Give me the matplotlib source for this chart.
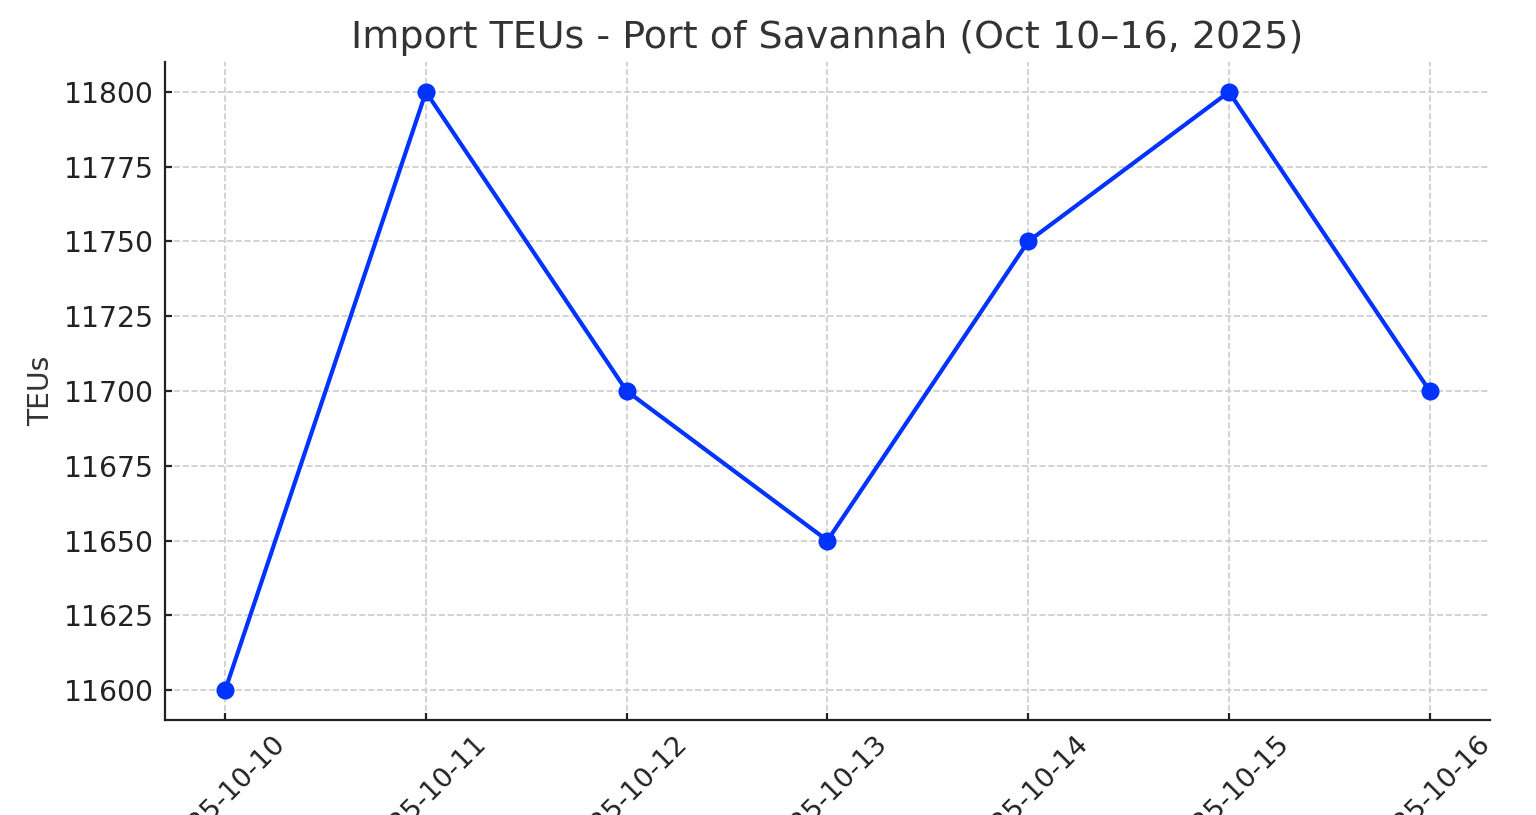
import matplotlib
matplotlib.use("Agg")
import matplotlib.pyplot as plt

dates = ["2025-10-10", "2025-10-11", "2025-10-12", "2025-10-13",
         "2025-10-14", "2025-10-15", "2025-10-16"]
teus = [11600, 11800, 11700, 11650, 11750, 11800, 11700]

plt.rcParams['text.color'] = '#333333'
plt.rcParams['axes.labelcolor'] = '#333333'
plt.rcParams['xtick.color'] = '#222222'
plt.rcParams['ytick.color'] = '#222222'

fig = plt.figure(figsize=(7.68, 4.075), dpi=200)
ax = fig.add_axes([0.1074, 0.1166, 0.8626, 0.8073])

ax.plot(dates, teus, marker='o', color='#0033ff', linewidth=1.5, markersize=5.5)

ax.set_title('Import TEUs - Port of Savannah (Oct 10–16, 2025)', fontsize=13.7, pad=5)
ax.set_ylabel('TEUs', fontsize=10.2, labelpad=3)
ax.tick_params(direction='in', length=2.5, pad=4)
ax.tick_params(axis='y', labelsize=10.2)
ax.tick_params(axis='x', labelsize=9.8)
plt.xticks(rotation=45)
ax.grid(True, linestyle='--', color='#cccccc', linewidth=0.6)
ax.spines['top'].set_visible(False)
ax.spines['right'].set_visible(False)
for s in ['left', 'bottom']:
    ax.spines[s].set_color('#222222')

fig.savefig('out.png', dpi=200)
